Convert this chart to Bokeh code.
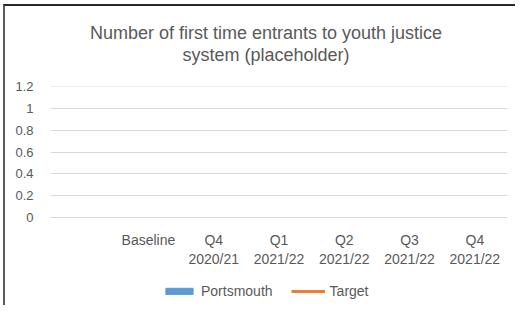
import numpy as np
from bokeh.plotting import figure
from bokeh.layouts import column
from bokeh.models import (ColumnDataSource, FactorRange, Range1d, FixedTicker,
                          Legend, LegendItem, Label)
from bokeh.embed import file_html
from bokeh.resources import INLINE

# ---- data (placeholder chart: no values yet) ----
categories = ["", "Baseline", "Q4\n2020/21", "Q1\n2021/22", "Q2\n2021/22",
              "Q3\n2021/22", "Q4\n2021/22"]
portsmouth = [np.nan, np.nan, np.nan, np.nan, np.nan, np.nan, np.nan]
target = [np.nan, np.nan, np.nan, np.nan, np.nan, np.nan, np.nan]
ytick_values = [0, 0.2, 0.4, 0.6, 0.8, 1.0, 1.2]
ytick_labels = ["0", "0.2", "0.4", "0.6", "0.8", "1", "1.2"]
title_lines = ["Number of first time entrants to youth justice",
               "system (placeholder)"]
series_names = ["Portsmouth", "Target"]
series_colors = ["#5B9BD5", "#ED7D31"]

FONT = "Liberation Sans"
GREY = "#595959"
W = 510

src = ColumnDataSource(dict(cat=categories, portsmouth=portsmouth, target=target))


def bare(height):
    f = figure(width=W, height=height, x_range=FactorRange(*categories),
               y_range=Range1d(0, 1.2), output_backend="svg",
               toolbar_location=None, x_axis_type=None, y_axis_type=None,
               min_border=0, title=None)
    f.outline_line_color = None
    f.grid.grid_line_color = None
    f.background_fill_color = "white"
    f.border_fill_color = "white"
    return f


# ---- title strip (positions relative to the aligned plot frame) ----
top = bare(66)
for i, t in enumerate(title_lines):
    top.add_layout(Label(x=215.5, y=40 - 22 * i, x_units="screen",
                         y_units="screen", text=t, text_align="center",
                         text_baseline="middle", text_font=FONT,
                         text_font_size="18px", text_color=GREY))

# ---- main chart ----
p = figure(width=W, height=203, x_range=FactorRange(*categories),
           y_range=Range1d(0, 1.201), output_backend="svg", toolbar_location=None,
           min_border_left=45, min_border_right=8, min_border_top=14,
           min_border_bottom=58)
p.outline_line_color = None
p.background_fill_color = "white"
p.border_fill_color = "white"

p.vbar(x="cat", top="portsmouth", width=0.6, source=src, color=series_colors[0])
p.line(x="cat", y="target", source=src, line_color=series_colors[1], line_width=3)

p.yaxis.ticker = FixedTicker(ticks=ytick_values)
p.yaxis.major_label_overrides = dict(zip(ytick_values, ytick_labels))
p.yaxis.axis_line_color = None
p.yaxis.major_tick_line_color = None
p.yaxis.minor_tick_line_color = None
p.yaxis.major_label_text_font = FONT
p.yaxis.major_label_text_font_size = "13px"
p.yaxis.major_label_text_color = GREY
p.yaxis.major_label_standoff = 11

p.xaxis.axis_line_color = "#d9d9d9"
p.xaxis.major_tick_line_color = None
p.xaxis.minor_tick_line_color = None
p.xaxis.major_label_text_font = FONT
p.xaxis.major_label_text_font_size = "14px"
p.xaxis.major_label_text_color = GREY
p.xaxis.major_label_text_line_height = 1.2
p.xaxis.major_label_standoff = 8
p.xaxis.major_label_orientation = "horizontal"

p.xgrid.grid_line_color = None
p.ygrid.grid_line_color = "#d9d9d9"
p.ygrid.grid_line_width = 1

# ---- legend strip ----
leg = bare(30)
lb = leg.vbar(x="cat", top="portsmouth", width=0.6, source=src,
              color=series_colors[0])
ll = leg.line(x="cat", y="target", source=src, line_color=series_colors[1],
              line_width=3)
legend = Legend(items=[LegendItem(label=series_names[0], renderers=[lb]),
                       LegendItem(label=series_names[1], renderers=[ll])],
                orientation="horizontal", location=(112, 6),
                glyph_width=34, glyph_height=8, label_standoff=5, spacing=18,
                padding=0, margin=0, border_line_color=None,
                background_fill_alpha=0, label_text_font=FONT,
                label_text_font_size="14px", label_text_color=GREY,
                label_height=16)
leg.add_layout(legend)

layout = column(top, p, leg, spacing=0,
                styles={"margin-left": "3px", "margin-top": "4px",
                        "border-top": "2px solid #262626",
                        "border-left": "2px solid #5a5a5a"})

open("out.html", "w").write(file_html(layout, INLINE))
